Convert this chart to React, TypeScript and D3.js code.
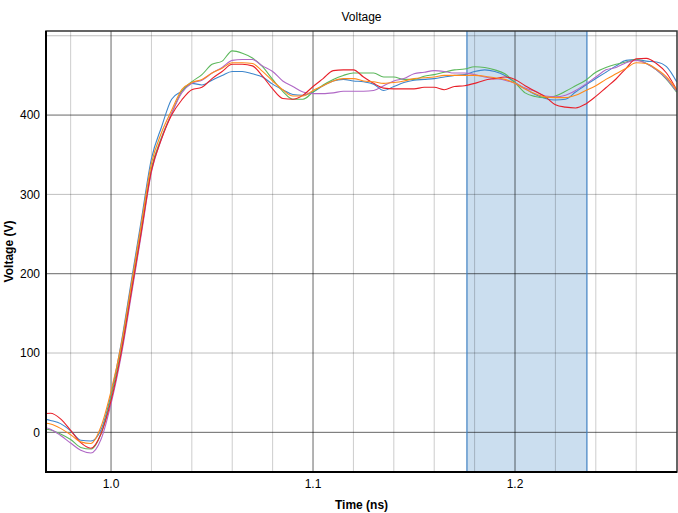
import React from "react";
import * as d3 from "d3";

// time samples (ns)
const time = [
  0.965, 0.97, 0.975, 0.98, 0.985, 0.99, 0.995, 1.0, 1.005, 1.01, 1.015, 1.02, 1.025, 1.03, 1.035, 1.04,
  1.045, 1.05, 1.055, 1.06, 1.065, 1.07, 1.075, 1.08, 1.085, 1.09, 1.095, 1.1, 1.105, 1.11, 1.115, 1.12,
  1.125, 1.13, 1.135, 1.14, 1.145, 1.15, 1.155, 1.16, 1.165, 1.17, 1.175, 1.18, 1.185, 1.19, 1.195, 1.2,
  1.205, 1.21, 1.215, 1.22, 1.225, 1.23, 1.235, 1.24, 1.245, 1.25, 1.255, 1.26, 1.265, 1.27, 1.275, 1.28,
];

const blueV = [
  18, 15, 11, 2, -10, -11, 3, 48, 112, 190, 268, 345, 385, 420, 430, 440,
  438, 444, 450, 455, 455, 452, 448, 439, 432, 426, 425, 429, 437, 443, 445, 443,
  442, 439, 431, 436, 441, 444, 445, 446, 448, 450, 451, 455, 457, 455, 450, 441,
  433, 426, 421, 419, 420, 429, 438, 446, 454, 462, 469, 470, 468, 467, 461, 442,
];
const greenV = [
  4.5, 3, -2, -9, -19, -21, -2, 44, 104, 180, 257, 333, 372, 402, 430, 442,
  451, 464, 468, 481, 478, 472, 461, 445, 430, 420, 420, 429, 438, 445, 450, 453,
  453, 453, 448, 448, 445, 445, 449, 451, 454, 457, 458, 461, 460, 457, 452, 441,
  428, 423.5, 422, 424, 430, 437, 444, 454, 460, 464, 467, 470, 465, 457, 445, 429,
];
const purpleV = [
  7, 4, -4, -13.5, -22.7, -26, -9, 36, 96, 172, 250, 328, 370, 402, 428, 440,
  444, 453, 460, 469, 470, 470, 462, 455, 443, 436, 429, 427, 427, 428, 430, 430,
  430, 431, 437, 443, 446, 452, 454, 456, 455, 453, 453, 451, 448, 446, 444, 440,
  434, 430, 424, 423, 425, 431, 439, 448, 457, 460, 466, 469, 465, 457, 446, 430,
];
const redV = [
  23, 24, 17, 2.5, -13, -20, -2, 40, 100, 176, 253, 330, 370, 400, 419, 432,
  435, 446, 455, 464, 464, 462, 449, 433, 421, 420, 425, 436, 446, 456, 457, 457,
  448, 440, 434, 433, 433, 433, 435, 435, 432, 436, 437, 440, 444, 446, 448, 445,
  437, 430, 423, 413, 410, 409, 414, 423.5, 434.5, 445.5, 459, 471, 471.5, 465, 453, 432,
];
const orangeV = [
  12, 10.5, 5, -3, -12, -14, 7, 52, 110, 186, 263, 339, 378, 406, 432, 441,
  445, 453, 459, 466, 466, 465, 455, 443, 432, 424, 424, 431, 437, 443, 446, 446,
  443, 442, 440, 441, 443, 446, 447, 448, 450, 450, 450, 450, 449, 447, 445, 440,
  433, 427, 423, 422, 422, 425, 431, 437, 445, 452, 459, 466, 465, 458, 448, 432,
];

const seriesList = [
  { name: "blue", color: "#3d86cc", values: blueV },
  { name: "green", color: "#5cb85c", values: greenV },
  { name: "purple", color: "#b068c6", values: purpleV },
  { name: "red", color: "#e8202a", values: redV },
  { name: "orange", color: "#ff8a1c", values: orangeV },
];

const xTickLabels = [1.0, 1.1, 1.2];
const yTickLabels = [0, 100, 200, 300, 400];
const xMinorGrid = [0.98, 1.02, 1.04, 1.06, 1.08, 1.12, 1.14, 1.16, 1.18, 1.22, 1.24, 1.26];
const yMinorGrid = [100, 300, 500];
const yMajorGrid = [0, 200, 400];
const shadeRange = [1.1762, 1.2356];

const W = 678;
const H = 513;
const plot = { left: 46, right: 677, top: 31, bottom: 472 };
const font = "'Liberation Sans', Arial, sans-serif";

export default function App() {
  const x = d3.scaleLinear().domain([0.9678, 1.2802]).range([plot.left, plot.right]);
  const y = d3.scaleLinear().domain([-50, 506]).range([plot.bottom, plot.top]);

  const line = (vals: number[]) =>
    d3
      .line<number>()
      .x((_, i) => x(time[i]))
      .y((d) => y(d))
      .curve(d3.curveMonotoneX)(vals) as string;

  return (
    <svg
      width={W}
      height={H}
      style={{ position: "absolute", left: 0, top: 0, background: "#fff" }}
      fontFamily={font}
    >
      <defs>
        <clipPath id="plotClip">
          <rect x={plot.left} y={plot.top} width={plot.right - plot.left} height={plot.bottom - plot.top} />
        </clipPath>
      </defs>
      <rect x={0} y={0} width={W} height={H} fill="#fff" />

      {/* shaded band */}
      <rect
        x={x(shadeRange[0])}
        y={plot.top}
        width={x(shadeRange[1]) - x(shadeRange[0])}
        height={plot.bottom - plot.top}
        fill="#c2d8ec"
        opacity={0.85}
      />

      {/* grid */}
      {xMinorGrid.map((t) => (
        <line key={"xm" + t} x1={x(t)} x2={x(t)} y1={plot.top} y2={plot.bottom} stroke="#000" strokeOpacity={0.2} />
      ))}
      {yMinorGrid.map((v) => (
        <line key={"ym" + v} x1={plot.left} x2={plot.right} y1={y(v)} y2={y(v)} stroke="#000" strokeOpacity={0.25} />
      ))}
      {xTickLabels.map((t) => (
        <line key={"xM" + t} x1={x(t)} x2={x(t)} y1={plot.top} y2={plot.bottom} stroke="#000" strokeOpacity={0.6} />
      ))}
      {yMajorGrid.map((v) => (
        <line key={"yM" + v} x1={plot.left} x2={plot.right} y1={y(v)} y2={y(v)} stroke="#000" strokeOpacity={0.6} />
      ))}

      {/* band edges */}
      {shadeRange.map((t) => (
        <line key={"se" + t} x1={x(t)} x2={x(t)} y1={plot.top} y2={plot.bottom} stroke="#3f80c2" strokeWidth={1.2} />
      ))}

      {/* curves */}
      <g clipPath="url(#plotClip)">
        {seriesList.map((s) => (
          <path key={s.name} d={line(s.values)} fill="none" stroke={s.color} strokeWidth={1.1} />
        ))}
      </g>

      {/* frame */}
      <rect
        x={plot.left}
        y={plot.top}
        width={plot.right - plot.left}
        height={plot.bottom - plot.top}
        fill="none"
        stroke="#333"
        strokeWidth={1.5}
      />
      <line x1={plot.left} x2={plot.left} y1={plot.top} y2={plot.bottom + 1} stroke="#000" strokeWidth={2} />
      <line x1={plot.left - 1} x2={plot.right} y1={plot.bottom} y2={plot.bottom} stroke="#000" strokeWidth={2} />

      {/* tick labels */}
      {yTickLabels.map((v) => (
        <text key={"yl" + v} x={plot.left - 6} y={y(v)} dy="0.35em" textAnchor="end" fontSize={12} fill="#000">
          {v}
        </text>
      ))}
      {xTickLabels.map((t) => (
        <text key={"xl" + t} x={x(t)} y={plot.bottom + 16} textAnchor="middle" fontSize={12} fill="#000">
          {d3.format(".1f")(t)}
        </text>
      ))}

      {/* titles */}
      <text x={(plot.left + plot.right) / 2} y={21} textAnchor="middle" fontSize={12} fill="#000">
        Voltage
      </text>
      <text x={(plot.left + plot.right) / 2} y={509} textAnchor="middle" fontSize={12} fontWeight="bold" fill="#000">
        Time (ns)
      </text>
      <text
        transform={`translate(13, ${(plot.top + plot.bottom) / 2}) rotate(-90)`}
        textAnchor="middle"
        fontSize={12}
        fontWeight="bold"
        fill="#000"
      >
        Voltage (V)
      </text>
    </svg>
  );
}
